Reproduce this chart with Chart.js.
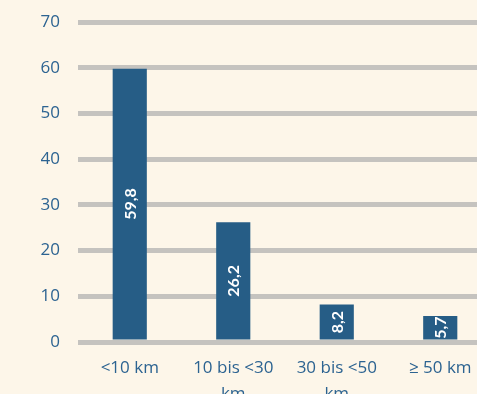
<!DOCTYPE html>
<html>
<head>
<meta charset="utf-8">
<script src="https://cdn.jsdelivr.net/npm/chart.js@4"></script>
<style>
  html, body { margin: 0; padding: 0; background: #fdf6e9; overflow: hidden; }
  #wrap { position: absolute; left: 0; top: 0; }
</style>
</head>
<body>
<div id="wrap"><canvas id="chart" width="500" height="394"></canvas></div>
<script>
// Werte
const categories = ['<10 km', ['10 bis <30', 'km'], ['30 bis <50', 'km'], '≥ 50 km'];
const values = [59.8, 26.2, 8.2, 5.7];
const yTicks = [0, 10, 20, 30, 40, 50, 60, 70];

const blue = '#265d86';
const textBlue = '#2c6391';

// Werte gedreht in die Balken schreiben
const barLabels = {
  id: 'barLabels',
  afterDatasetsDraw(chart) {
    const ctx = chart.ctx;
    const meta = chart.getDatasetMeta(0);
    meta.data.forEach((bar, i) => {
      const txt = values[i].toFixed(1).replace('.', ',');
      const cy = (bar.y + bar.base) / 2;
      ctx.save();
      ctx.translate(bar.x, cy);
      ctx.rotate(-Math.PI / 2);
      ctx.font = 'bold 16px Lato';
      ctx.fillStyle = '#ffffff';
      ctx.textAlign = 'center';
      ctx.textBaseline = 'middle';
      ctx.fillText(txt, 0, 1);
      ctx.restore();
    });
  }
};

const ctx = document.querySelector('#chart').getContext('2d');

const myChart = new Chart(ctx, {
  type: 'bar',
  data: {
    labels: categories,
    datasets: [{
      data: values,
      backgroundColor: blue,
      barPercentage: 0.33,
      categoryPercentage: 1
    }]
  },
  options: {
    responsive: false,
    animation: false,
    layout: { padding: { top: 22, right: 8, left: 41, bottom: 0 } },
    plugins: { legend: { display: false }, tooltip: { enabled: false } },
    scales: {
      x: {
        grid: { display: false },
        border: { display: false },
        afterFit(axis) { axis.height = 52; },
        ticks: {
          color: textBlue,
          font: { family: 'Open Sans', size: 17, lineHeight: 1.55 },
          padding: 5,
          maxRotation: 0,
          autoSkip: false
        }
      },
      y: {
        min: 0,
        max: 70,
        afterBuildTicks(axis) { axis.ticks = yTicks.map(v => ({ value: v })); },
        afterFit(axis) {
          axis.width = 37;
          axis.paddingTop = 0;
          axis.paddingBottom = 0;
        },
        grid: { color: '#c5c3bf', lineWidth: 5, drawTicks: false },
        border: { display: false },
        ticks: {
          color: textBlue,
          font: { family: 'Open Sans', size: 17 },
          padding: 18
        }
      }
    }
  },
  plugins: [barLabels]
});
</script>
</body>
</html>
